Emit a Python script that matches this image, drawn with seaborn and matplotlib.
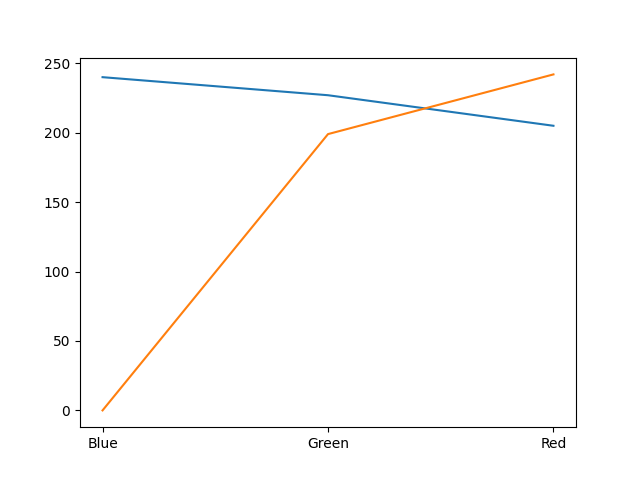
import matplotlib
matplotlib.use("Agg")
import matplotlib.pyplot as plt
import seaborn as sns

categories = ["Blue", "Green", "Red"]
series_a = [240, 227, 205]
series_b = [0, 199, 242]

plt.figure(figsize=(6.4, 4.8), dpi=100)
ax = plt.subplot(111)
sns.lineplot(x=categories, y=series_a, ax=ax, color="#1f77b4")
sns.lineplot(x=categories, y=series_b, ax=ax, color="#ff7f0e")
ax.set_xlabel("")
ax.set_ylabel("")

plt.savefig("out.png", dpi=100)
